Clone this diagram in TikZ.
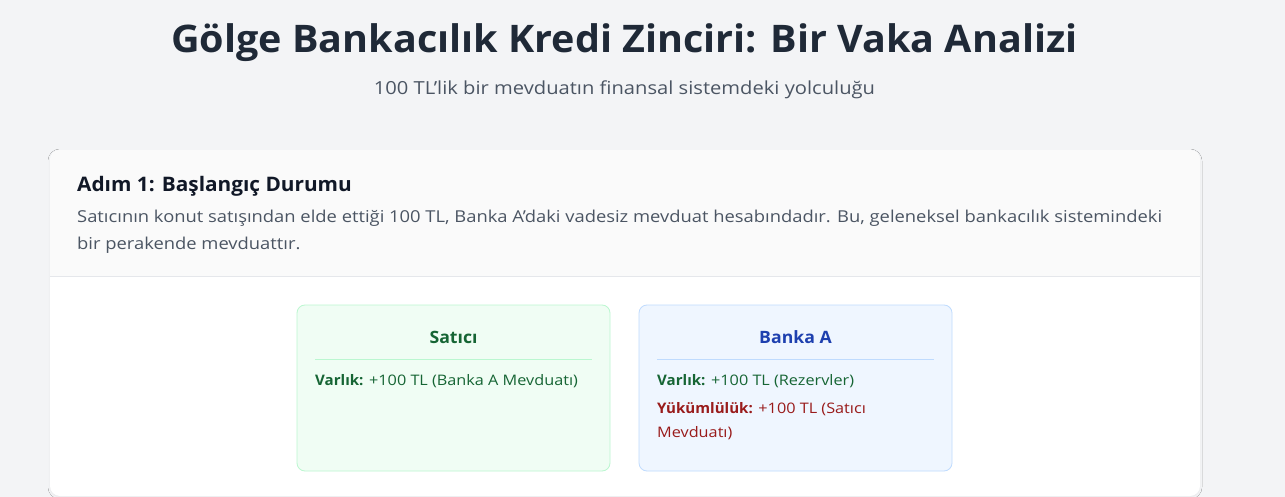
\documentclass[tikz,border=0pt]{standalone}
\usepackage{fontspec}
\setmainfont{Open Sans}[FakeStretch=1.12,BoldFeatures={FakeStretch=1.04}]
\usetikzlibrary{shadows.blur}
\definecolor{pagebg}{HTML}{F3F4F6}
\definecolor{headbg}{HTML}{FAFAFA}
\definecolor{rulegray}{HTML}{E5E7EB}
\definecolor{titlecol}{HTML}{1F2937}
\definecolor{subcol}{HTML}{4B5563}
\definecolor{stepcol}{HTML}{111827}
\definecolor{greenbg}{HTML}{F0FDF4}
\definecolor{greenline}{HTML}{BBF7D0}
\definecolor{greentext}{HTML}{166534}
\definecolor{bluebg}{HTML}{EFF6FF}
\definecolor{blueline}{HTML}{BFDBFE}
\definecolor{bluetext}{HTML}{1E40AF}
\definecolor{redtext}{HTML}{991B1B}

\begin{document}
\begin{tikzpicture}[x=1pt,y=-1pt,
    txt/.style={anchor=base west,inner sep=0pt},
    acct/.style={draw,rounded corners=8pt,line width=0.8pt,minimum width=313pt,minimum height=166pt,inner sep=0pt},
    accthead/.style={anchor=base,inner sep=0pt,font=\fontsize{17}{20}\selectfont\bfseries},
    entry/.style={txt,font=\fontsize{14.5}{18}\selectfont},
    desc/.style={txt,text=subcol,font=\fontsize{16.4}{20}\selectfont}]
    \useasboundingbox (0,0) rectangle (1285,497);
    \fill[pagebg] (0,0) rectangle (1285,497);

    % title
    \node[anchor=base,inner sep=0pt,text=titlecol,font=\fontsize{38}{44}\selectfont\bfseries] (title) at (624.5,53) {Gölge Bankacılık Kredi Zinciri: Bir Vaka Analizi};
    \node[anchor=base,inner sep=0pt,text=subcol,font=\fontsize{18}{22}\selectfont] (subtitle) at (624.5,95) {100 TL'lik bir mevduatın finansal sistemdeki yolculuğu};

    % card
    \path[fill=white,rounded corners=10pt,blur shadow={shadow xshift=0pt,shadow yshift=-1pt,shadow blur radius=2pt,shadow opacity=5}] (50,150) rectangle (1200,496);
    \begin{scope}
        \clip[rounded corners=10pt] (50,150) rectangle (1200,496);
        \fill[headbg] (50,150) rectangle (1200,276);
    \end{scope}
    \draw[rulegray,line width=1pt] (50,276.5) -- (1200,276.5);
    \node[txt,text=stepcol,font=\fontsize{20}{24}\selectfont\bfseries] (step) at (77,192) {Adım 1: Başlangıç Durumu};
    \node[desc] (desc1) at (77,223) {Satıcının konut satışından elde ettiği 100 TL, Banka A'daki vadesiz mevduat hesabındadır. Bu, geleneksel bankacılık sistemindeki};
    \node[desc] (desc2) at (77,250) {bir perakende mevduattır.};

    % accounts
    \foreach \name/\cx/\fillc/\linec/\headc/\head in {satici/453.5/greenbg/greenline/greentext/Satıcı, bankA/795.5/bluebg/blueline/bluetext/Banka A} {
        \node[acct,fill=\fillc,draw=\linec] (\name) at (\cx,388) {};
        \node[accthead,text=\headc] (\name-head) at (\cx,343) {\head};
        \draw[\linec,line width=0.8pt] (\cx-138.5,359) -- (\cx+138.5,359);
    }
    \node[entry,text=greentext] (satici-asset) at (315,385) {\textbf{Varlık:} +100 TL (Banka A Mevduatı)};
    \node[entry,text=greentext] (bankA-asset) at (657,385) {\textbf{Varlık:} +100 TL (Rezervler)};
    \node[entry,text=redtext] (bankA-liab) at (657,413) {\textbf{Yükümlülük:} +100 TL (Satıcı};
    \node[entry,text=redtext] (bankA-liab2) at (657,437) {Mevduatı)};
\end{tikzpicture}
\end{document}
